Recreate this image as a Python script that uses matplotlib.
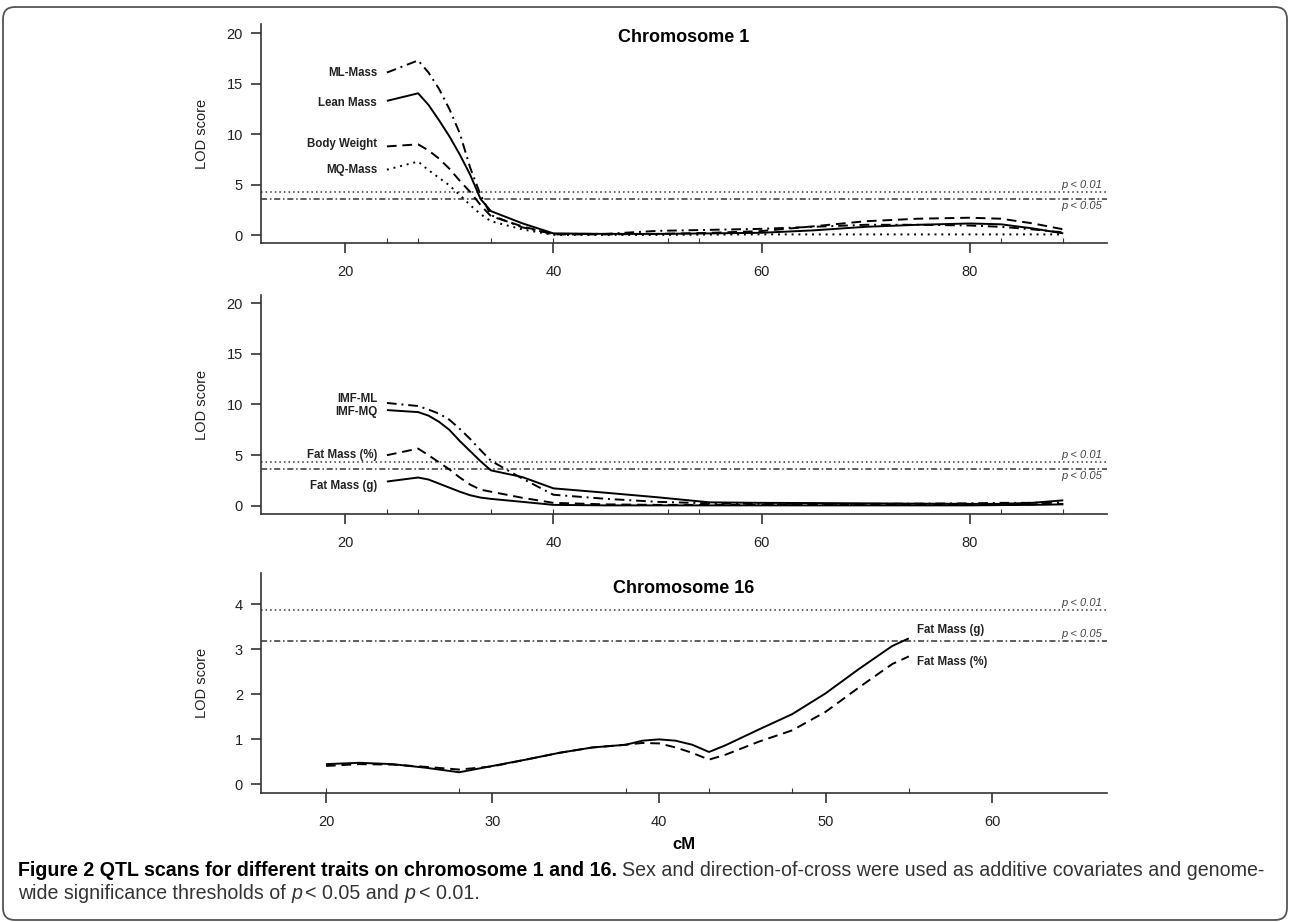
import matplotlib
matplotlib.use('Agg')
import matplotlib.pyplot as plt
from matplotlib.patches import FancyBboxPatch

plt.rcParams['font.family'] = ['Liberation Sans', 'DejaVu Sans']

# chromosome 1: positions (cM) and LOD scores
chr1_cm = [24, 27, 28, 29, 30, 31, 32, 33, 34, 37, 40, 45, 50, 55, 60, 65, 70, 75, 80, 83, 86, 89]
ml_mass = [16.1, 17.3, 16.1, 14.5, 12.5, 10.1, 6.7, 4.0, 2.0, 0.8, 0.15, 0.15, 0.45, 0.55, 0.65, 0.85, 1.05, 1.05, 0.98, 0.85, 0.6, 0.3]
lean_mass = [13.3, 14.05, 12.9, 11.4, 9.8, 8.0, 6.0, 3.6, 2.4, 1.2, 0.2, 0.15, 0.15, 0.2, 0.26, 0.5, 0.85, 1.05, 1.18, 1.1, 0.7, 0.2]
body_weight = [8.8, 9.0, 8.4, 7.6, 6.6, 5.4, 4.3, 3.0, 1.9, 0.9, 0.1, 0.1, 0.15, 0.25, 0.43, 0.9, 1.4, 1.65, 1.75, 1.65, 1.2, 0.6]
mq_mass = [6.5, 7.3, 6.45, 5.7, 4.95, 4.0, 3.0, 2.1, 1.4, 0.6, 0.05, 0.05, 0.05, 0.08, 0.1, 0.1, 0.1, 0.1, 0.1, 0.1, 0.1, 0.1]

imf_ml = [10.15, 9.85, 9.5, 9.1, 8.5, 7.6, 6.6, 5.5, 4.45, 2.7, 1.1, 0.7, 0.4, 0.25, 0.2, 0.2, 0.2, 0.22, 0.25, 0.3, 0.3, 0.35]
imf_mq = [9.45, 9.25, 8.9, 8.3, 7.5, 6.4, 5.4, 4.4, 3.5, 2.85, 1.73, 1.3, 0.85, 0.35, 0.3, 0.28, 0.25, 0.22, 0.2, 0.2, 0.3, 0.55]
fat_pct1 = [5.0, 5.65, 5.0, 4.3, 3.6, 2.8, 2.1, 1.6, 1.4, 0.8, 0.3, 0.15, 0.1, 0.1, 0.1, 0.1, 0.1, 0.1, 0.12, 0.12, 0.15, 0.2]
fat_g1 = [2.4, 2.8, 2.6, 2.2, 1.8, 1.4, 1.05, 0.82, 0.69, 0.4, 0.1, 0.05, 0.05, 0.05, 0.05, 0.05, 0.05, 0.05, 0.05, 0.08, 0.1, 0.15]

chr1_markers = [24, 27, 34, 40, 51, 54, 83, 89]
chr1_thresh = [4.3, 3.6]   # p < 0.01, p < 0.05

# chromosome 16
chr16_cm = [20, 22, 24, 26, 28, 30, 32, 34, 36, 38, 39, 40, 41, 42, 43, 44, 46, 48, 50, 52, 54, 55]
fat_g16 = [0.45, 0.48, 0.45, 0.37, 0.27, 0.41, 0.55, 0.70, 0.82, 0.88, 0.97, 1.0, 0.97, 0.88, 0.72, 0.87, 1.22, 1.56, 2.02, 2.56, 3.07, 3.24]
fat_pct16 = [0.41, 0.45, 0.44, 0.39, 0.33, 0.40, 0.55, 0.70, 0.82, 0.88, 0.92, 0.91, 0.82, 0.70, 0.55, 0.66, 0.95, 1.2, 1.61, 2.15, 2.67, 2.84]
chr16_markers = [20, 28, 38, 43, 48, 55]
chr16_thresh = [3.87, 3.19]

# line styles (R lty look-alikes)
SOLID = (0, ())
DASHED = (0, (5, 3))
DOTTED = (0, (1, 2.5))
DOTDASH = (0, (5, 2.5, 1, 2.5))
AXC = '#333333'

W, H = 1290, 922
fig = plt.figure(figsize=(W / 100, H / 100), dpi=100)


def add_panel(top, bottom):
    return fig.add_axes([261 / W, 1 - bottom / H, 846 / W, (bottom - top) / H])


def style(ax, xlim, ylim, xticks, yticks, markers, thresh, p_both_above=False):
    ax.set_xlim(xlim)
    ax.set_ylim(ylim)
    for s in ['top', 'right']:
        ax.spines[s].set_visible(False)
    for s in ['left', 'bottom']:
        ax.spines[s].set_linewidth(1.2)
        ax.spines[s].set_color(AXC)
    ax.set_xticks(xticks)
    ax.set_yticks(yticks)
    ax.xaxis.remove_overlapping_locs = False
    ax.set_xticks(markers, minor=True)
    ax.tick_params(axis='x', which='minor', direction='in', length=3.6, width=0.8, color=AXC)
    ax.tick_params(which='major', length=7, width=1.2, color=AXC, labelsize=10.5, labelcolor='#222222')
    ax.tick_params(axis='x', which='major', pad=9)
    ax.tick_params(axis='y', which='major', pad=6)
    ax.set_ylabel('LOD score', fontsize=10.5, color='#222222')
    ax.yaxis.set_label_coords(-0.061, 0.5)

    ax.axhline(thresh[0], color='#333333', lw=1.1, ls=(0, (1, 2)))
    ax.axhline(thresh[1], color='#333333', lw=1.1, ls=(0, (4, 1.8, 1, 1.8)))
    tr = ax.get_yaxis_transform()
    ax.annotate('p < 0.01', (0.994, thresh[0]), xycoords=tr, xytext=(0, 1.5),
                textcoords='offset points', ha='right', va='bottom',
                fontsize=8, fontstyle='italic', color='#444444')
    if p_both_above:
        ax.annotate('p < 0.05', (0.994, thresh[1]), xycoords=tr, xytext=(0, 1.5),
                    textcoords='offset points', ha='right', va='bottom',
                    fontsize=8, fontstyle='italic', color='#444444')
    else:
        ax.annotate('p < 0.05', (0.994, thresh[1]), xycoords=tr, xytext=(0, -1.5),
                    textcoords='offset points', ha='right', va='top',
                    fontsize=8, fontstyle='italic', color='#444444')


def curve(ax, x, y, ls, name, dy=0, left=True):
    ax.plot(x, y, color='black', lw=1.4, ls=ls, solid_joinstyle='round')
    if left:
        ax.annotate(name, (x[0], y[0]), xytext=(-7, dy), textcoords='offset points',
                    ha='right', va='center', fontsize=8.3, fontweight='bold', color='#222222')
    else:
        ax.annotate(name, (x[-1], y[-1]), xytext=(6, dy), textcoords='offset points',
                    ha='left', va='center', fontsize=8.3, fontweight='bold', color='#222222')


# panel 1: chromosome 1, body composition
ax1 = add_panel(24, 243)
style(ax1, (11.9, 93.2), (-0.75, 20.9), [20, 40, 60, 80], [0, 5, 10, 15, 20],
      chr1_markers, chr1_thresh)
curve(ax1, chr1_cm, ml_mass, DOTDASH, 'ML-Mass')
curve(ax1, chr1_cm, lean_mass, SOLID, 'Lean Mass', dy=-1.5)
curve(ax1, chr1_cm, body_weight, DASHED, 'Body Weight', dy=2)
curve(ax1, chr1_cm, mq_mass, DOTTED, 'MQ-Mass')
ax1.text(0.5, 0.94, 'Chromosome 1', transform=ax1.transAxes, ha='center', va='center',
         fontsize=13, fontweight='bold')

# panel 2: chromosome 1, fat traits
ax2 = add_panel(295, 514)
style(ax2, (11.9, 93.2), (-0.8, 20.8), [20, 40, 60, 80], [0, 5, 10, 15, 20],
      chr1_markers, chr1_thresh)
curve(ax2, chr1_cm, imf_ml, DOTDASH, 'IMF-ML', dy=3)
curve(ax2, chr1_cm, imf_mq, SOLID, 'IMF-MQ', dy=-1.5)
curve(ax2, chr1_cm, fat_pct1, DASHED, 'Fat Mass (%)')
curve(ax2, chr1_cm, fat_g1, SOLID, 'Fat Mass (g)', dy=-3)

# panel 3: chromosome 16
ax3 = add_panel(573, 793)
style(ax3, (16.1, 66.9), (-0.19, 4.69), [20, 30, 40, 50, 60], [0, 1, 2, 3, 4],
      chr16_markers, chr16_thresh, p_both_above=True)
curve(ax3, chr16_cm, fat_g16, SOLID, 'Fat Mass (g)', dy=6, left=False)
curve(ax3, chr16_cm, fat_pct16, DASHED, 'Fat Mass (%)', dy=-4, left=False)
ax3.text(0.5, 0.928, 'Chromosome 16', transform=ax3.transAxes, ha='center', va='center',
         fontsize=13, fontweight='bold')
ax3.set_xlabel('cM', fontsize=12, fontweight='bold')
ax3.xaxis.set_label_coords(0.5, -0.2)

# rounded frame around the figure
frame = FancyBboxPatch((0.03, 0.02), 12.84, 9.13, boxstyle='round,pad=0,rounding_size=0.12',
                       transform=fig.dpi_scale_trans, fill=False, lw=1.3, ec='#555555')
fig.patches.append(frame)

# caption, set piece by piece
cap_font = ['Liberation Sans Narrow', 'Liberation Sans', 'DejaVu Sans']
fig.canvas.draw()
rend = fig.canvas.get_renderer()


def put(x, y, s, size, **kw):
    t = fig.text(x / W, 1 - y / H, s, fontsize=size, family=cap_font, va='baseline', **kw)
    return t, t.get_window_extent(renderer=rend).x1


def space_w(size):
    a, wa = put(0, 0, 'xx', size)
    b, wb = put(0, 0, 'x x', size)
    a.remove()
    b.remove()
    return wb - wa


line1_bold = 'Figure 2 QTL scans for different traits on chromosome 1 and 16.'
line1_rest = 'Sex and direction-of-cross were used as additive covariates and genome-'

# fit line 1 to the caption width
size = 10
t1, x1 = put(18, 876, line1_bold, size, fontweight='bold')
sp = space_w(size)
t2, x2 = put(x1 + sp, 876, line1_rest, size)
scale = (1262 - 18) / (x2 - 18)
t1.remove()
t2.remove()
size = size * scale
sp = space_w(size)

t1, x1 = put(18, 876, line1_bold, size, fontweight='bold', color='black')
put(x1 + sp, 876, line1_rest, size, color='#333333')

y2 = 899
_, x = put(18, y2, 'wide significance thresholds of', size, color='#333333')
_, x = put(x + sp, y2, 'p', size, color='#333333', fontstyle='italic')
_, x = put(x + sp * 0.6, y2, '< 0.05 and', size, color='#333333')
_, x = put(x + sp, y2, 'p', size, color='#333333', fontstyle='italic')
put(x + sp * 0.6, y2, '< 0.01.', size, color='#333333')

fig.savefig('out.png', dpi=100)
